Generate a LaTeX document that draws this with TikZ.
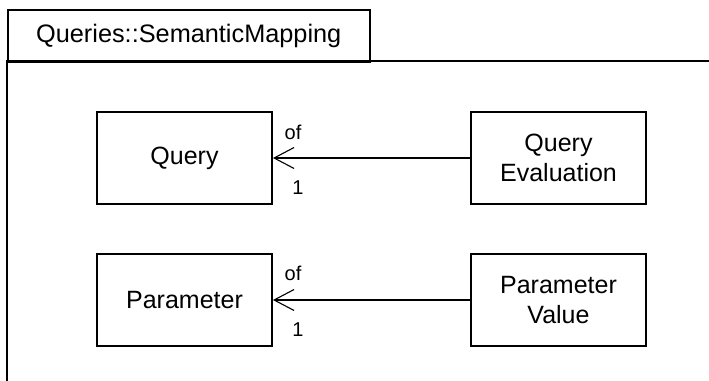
\documentclass[tikz,border=0pt]{standalone}
\usepackage{fontspec}
\setmainfont{Liberation Sans}
\usetikzlibrary{arrows.meta}
\begin{document}
\begin{tikzpicture}[x=1pt,y=-1pt,
  cls/.style={draw,line width=1.8pt,minimum width=175pt,minimum height=92pt,inner sep=0pt,align=center,font=\fontsize{25}{30}\selectfont},
  assoc/.style={draw,line width=1.1pt,-{Straight Barb[length=20pt,width=21pt,line width=1.1pt]}},
  mult/.style={font=\fontsize{20}{22}\selectfont,inner sep=0pt}]
\useasboundingbox (0,0) rectangle (709,380);
% package frame
\draw[line width=1.5pt] (7,390) -- (7,61) -- (709,61);
\node[draw,line width=1.5pt,minimum width=362pt,minimum height=52pt,inner sep=0pt,anchor=north west,font=\fontsize{25.3}{30}\selectfont] (pkg) at (7,9) {Queries::SemanticMapping};
% classes
\node[cls] (q) at (184.5,158) {Query};
\node[cls] (qe) at (558.5,158) {Query\\Evaluation};
\node[cls] (p) at (184.5,300) {Parameter};
\node[cls] (pv) at (558.5,300) {Parameter\\Value};
% associations
\draw[assoc] (qe.west) -- (q.east);
\draw[assoc] (pv.west) -- (p.east);
\node[mult] (l1) at (293,132) {of};
\node[mult] (l2) at (298,188) {1};
\node[mult] (l3) at (293,273) {of};
\node[mult] (l4) at (298,330) {1};
\end{tikzpicture}
\end{document}
